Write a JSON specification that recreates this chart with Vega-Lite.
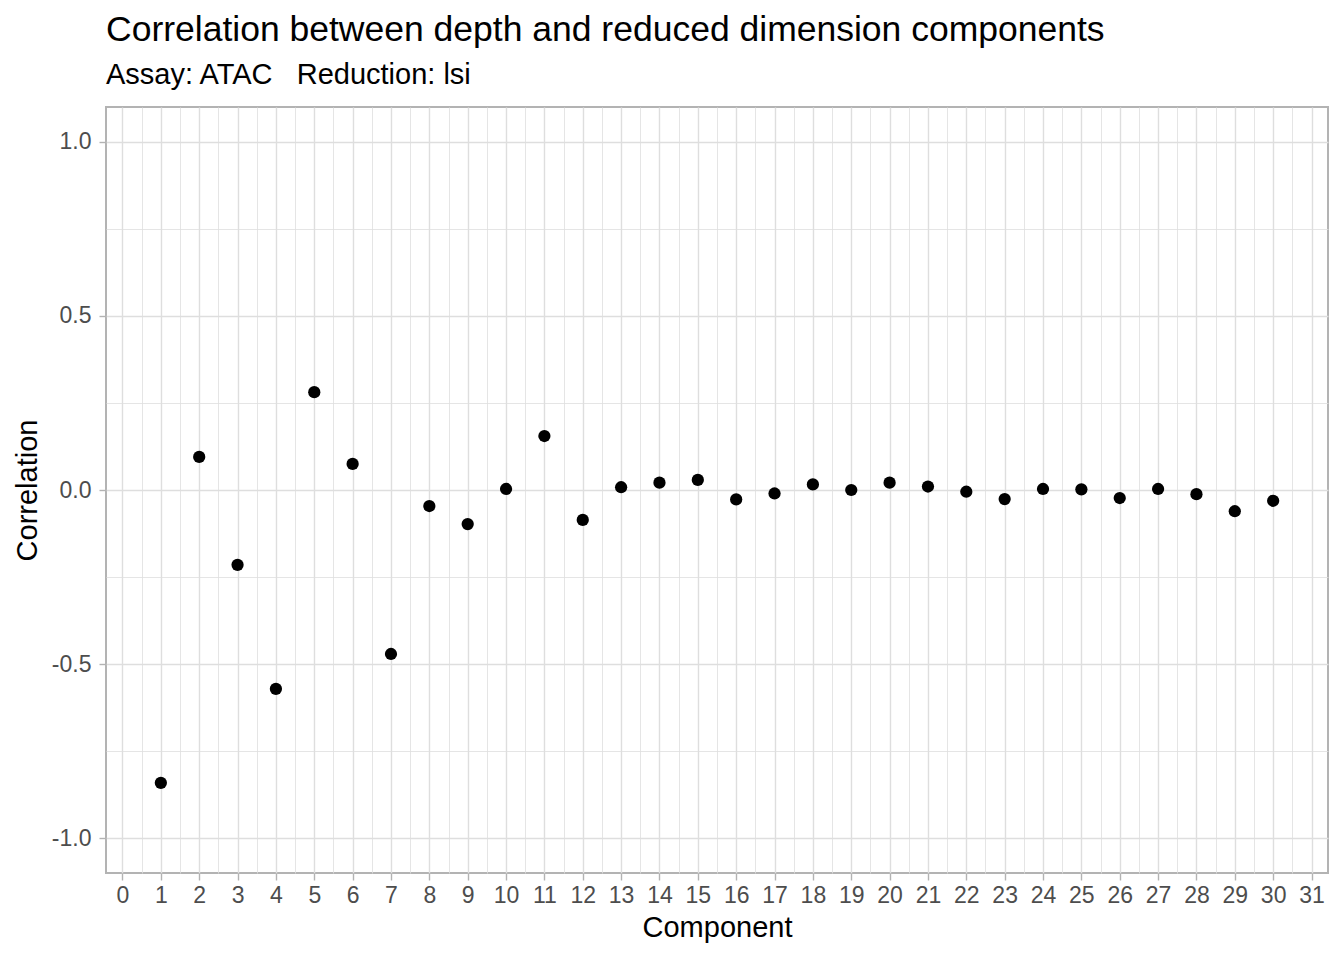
{
  "$schema": "https://vega.github.io/schema/vega-lite/v6.json",
  "width": 1222,
  "height": 766,
  "autosize": {"type": "none"},
  "padding": {"left": 106, "top": 107, "right": 16, "bottom": 87},
  "background": "white",
  "title": {
    "text": "Correlation between depth and reduced dimension components",
    "subtitle": "Assay: ATAC\u00a0\u00a0\u00a0Reduction: lsi",
    "anchor": "start",
    "frame": "group",
    "font": "Liberation Sans",
    "fontSize": 35.5,
    "fontWeight": "normal",
    "color": "black",
    "subtitleFont": "Liberation Sans",
    "subtitleFontSize": 29,
    "subtitleColor": "black",
    "subtitlePadding": 13,
    "offset": 17
  },
  "data": {
    "values": [
      {"component": 1, "correlation": -0.841},
      {"component": 2, "correlation": 0.095},
      {"component": 3, "correlation": -0.215},
      {"component": 4, "correlation": -0.571},
      {"component": 5, "correlation": 0.281},
      {"component": 6, "correlation": 0.075},
      {"component": 7, "correlation": -0.471},
      {"component": 8, "correlation": -0.046},
      {"component": 9, "correlation": -0.098},
      {"component": 10, "correlation": 0.003},
      {"component": 11, "correlation": 0.155},
      {"component": 12, "correlation": -0.086},
      {"component": 13, "correlation": 0.008},
      {"component": 14, "correlation": 0.021},
      {"component": 15, "correlation": 0.029},
      {"component": 16, "correlation": -0.027},
      {"component": 17, "correlation": -0.010},
      {"component": 18, "correlation": 0.016},
      {"component": 19, "correlation": 0.0},
      {"component": 20, "correlation": 0.021},
      {"component": 21, "correlation": 0.010},
      {"component": 22, "correlation": -0.005},
      {"component": 23, "correlation": -0.026},
      {"component": 24, "correlation": 0.003},
      {"component": 25, "correlation": 0.002},
      {"component": 26, "correlation": -0.023},
      {"component": 27, "correlation": 0.003},
      {"component": 28, "correlation": -0.012},
      {"component": 29, "correlation": -0.061},
      {"component": 30, "correlation": -0.031}
    ]
  },
  "mark": {"type": "point", "filled": true, "color": "black", "opacity": 1, "size": 150, "shape": "circle"},
  "encoding": {
    "x": {
      "field": "component",
      "type": "quantitative",
      "title": "Component",
      "scale": {"domain": [-0.43, 31.43], "nice": false, "zero": false},
      "axis": {
        "values": [0, 0.5, 1, 1.5, 2, 2.5, 3, 3.5, 4, 4.5, 5, 5.5, 6, 6.5, 7, 7.5, 8, 8.5, 9, 9.5, 10, 10.5, 11, 11.5, 12, 12.5, 13, 13.5, 14, 14.5, 15, 15.5, 16, 16.5, 17, 17.5, 18, 18.5, 19, 19.5, 20, 20.5, 21, 21.5, 22, 22.5, 23, 23.5, 24, 24.5, 25, 25.5, 26, 26.5, 27, 27.5, 28, 28.5, 29, 29.5, 30, 30.5, 31],
        "labelExpr": "datum.value % 1 == 0 ? format(datum.value, 'd') : ''",
        "gridWidth": {"condition": {"test": "datum.value % 1 == 0", "value": 1.4}, "value": 0.8},
        "tickOpacity": {"condition": {"test": "datum.value % 1 == 0", "value": 1}, "value": 0},
        "labelPadding": 4,
        "titlePadding": 6
      }
    },
    "y": {
      "field": "correlation",
      "type": "quantitative",
      "title": "Correlation",
      "scale": {"domain": [-1.1, 1.1], "nice": false, "zero": false},
      "axis": {
        "values": [-1, -0.75, -0.5, -0.25, 0, 0.25, 0.5, 0.75, 1],
        "labelExpr": "datum.value % 0.5 == 0 ? replace(format(datum.value, '.1f'), '\u2212', '-') : ''",
        "gridWidth": {"condition": {"test": "datum.value % 0.5 == 0", "value": 1.4}, "value": 0.8},
        "tickOpacity": {"condition": {"test": "datum.value % 0.5 == 0", "value": 1}, "value": 0},
        "labelPadding": 8,
        "titlePadding": 9
      }
    }
  },
  "config": {
    "view": {"stroke": "#B3B3B3", "strokeWidth": 2},
    "axis": {
      "domain": false,
      "grid": true,
      "gridColor": "#DEDEDE",
      "tickColor": "#B3B3B3",
      "tickWidth": 1.4,
      "tickSize": 7,
      "labelFont": "Liberation Sans",
      "labelFontSize": 23,
      "labelColor": "#4D4D4D",
      "labelOverlap": false,
      "labelFlush": false,
      "titleFont": "Liberation Sans",
      "titleFontSize": 29,
      "titleFontWeight": "normal",
      "titleColor": "black"
    }
  }
}
